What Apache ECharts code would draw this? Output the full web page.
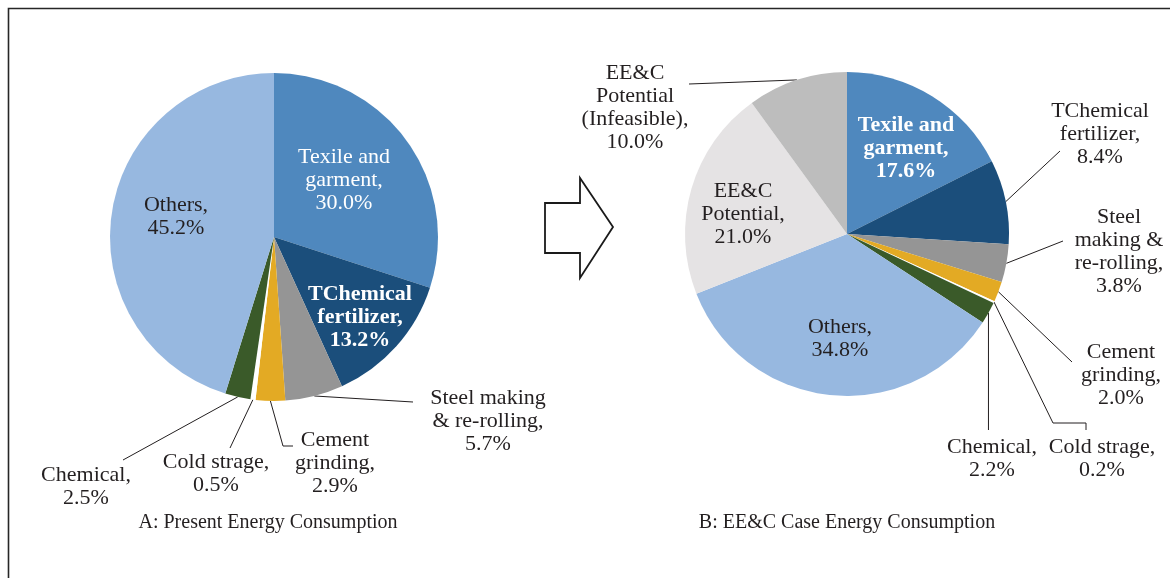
<!DOCTYPE html>
<html>
<head>
<meta charset="utf-8">
<script src="https://cdn.jsdelivr.net/npm/echarts@6/dist/echarts.min.js"></script>
<style>
  html, body { margin: 0; padding: 0; background: #fff; }
  #chart { width: 1170px; height: 578px; }
</style>
</head>
<body>
<div id="chart"></div>
<script>
// Sector names (the spelling is kept as published)
const sectors = [
  'Texile and garment', 'TChemical fertilizer', 'Steel making & re-rolling',
  'Cement grinding', 'Cold strage', 'Chemical', 'Others'
];
// A: present energy consumption, % share
const presentShare = [30.0, 13.2, 5.7, 2.9, 0.5, 2.5, 45.2];

// B: EE&C case, the same sectors plus the saving potential
const eecSectors = sectors.concat(['EE&C Potential', 'EE&C Potential (Infeasible)']);
const eecShare = [17.6, 8.4, 3.8, 2.0, 0.2, 2.2, 34.8, 21.0, 10.0];

const panelTitles = ['A: Present Energy Consumption', 'B: EE&C Case Energy Consumption'];

// Label text, line-broken as in the figure
const labelTextA = [
  'Texile and\ngarment,', 'TChemical\nfertilizer,', 'Steel making\n& re-rolling,',
  'Cement\ngrinding,', 'Cold strage,', 'Chemical,', 'Others,'
];
const labelTextB = [
  'Texile and\ngarment,', 'TChemical\nfertilizer,', 'Steel\nmaking &\nre-rolling,',
  'Cement\ngrinding,', 'Cold strage,', 'Chemical,', 'Others,',
  'EE&C\nPotential,', 'EE&C\nPotential\n(Infeasible),'
];

const colors = ['#4F88BE', '#1B4E7B', '#959595', '#E3AA24', '#FFFFFF', '#3A5A29', '#97B8E0', '#E5E3E4', '#BDBDBD'];

const FONT = "'Liberation Serif', 'Times New Roman', serif";
const pies = [
  { center: [274, 237], r: 164 },
  { center: [847, 234], r: 162 }
];

// Label anchors (block centre) and leader-line bends for each slice
const labelLayoutA = [
  { at: [344, 180], inside: true },
  { at: [360, 317], inside: true },
  { at: [488, 421], bend: [[413, 402]] },
  { at: [335, 463], bend: [[283, 446], [293, 446]] },
  { at: [216, 474], bend: [[230, 448]] },
  { at: [86, 487], bend: [[123, 460]] },
  { at: [176, 217], inside: true }
];
const labelLayoutB = [
  { at: [906, 148], inside: true },
  { at: [1100, 134], bend: [[1060, 151]] },
  { at: [1119, 252], bend: [[1063, 241]] },
  { at: [1121, 375], bend: [[1072, 362]] },
  { at: [1102, 459], bend: [[1053, 423], [1086, 423], [1086, 430]] },
  { at: [992, 459], vertical: 430 },
  { at: [840, 339], inside: true },
  { at: [743, 214], inside: true },
  { at: [635, 108], bend: [[689, 84]] }
];

// Point on the rim at a slice's mid-angle (clockwise from 12 o'clock)
function rimPoint(values, idx, pie) {
  const total = values.reduce((a, b) => a + b, 0);
  let before = 0;
  for (let i = 0; i < idx; i++) before += values[i];
  const frac = (before + values[idx] / 2) / total;
  const ang = frac * Math.PI * 2;
  return [pie.center[0] + pie.r * Math.sin(ang), pie.center[1] - pie.r * Math.cos(ang)];
}

function buildData(names, values, texts, layout, style) {
  return names.map((name, i) => {
    const s = style[i] || {};
    return {
      name: name,
      value: values[i],
      itemStyle: { color: colors[i] },
      label: {
        formatter: texts[i] + '\n' + values[i].toFixed(1) + '%',
        color: s.color || '#231F20',
        fontWeight: s.bold ? 'bold' : 'normal'
      },
      labelLine: { show: !layout[i].inside }
    };
  });
}

const styleA = { 0: { color: '#FFFFFF' }, 1: { color: '#FFFFFF', bold: true } };
const styleB = { 0: { color: '#FFFFFF', bold: true } };

function makeLabelLayout(values, layout, pie) {
  return function (params) {
    const L = layout[params.dataIndex];
    const out = { x: L.at[0], y: L.at[1], align: 'center', verticalAlign: 'middle' };
    if (!L.inside) {
      const start = rimPoint(values, params.dataIndex, pie);
      let pts;
      if (L.vertical !== undefined) {
        pts = [start, [start[0], L.vertical]];
      } else {
        pts = [start].concat(L.bend);
      }
      if (pts.length < 3) pts.push(pts[pts.length - 1].slice());
      out.labelLinePoints = pts;
    }
    return out;
  };
}

function pieSeries(names, values, texts, layout, style, pie) {
  return {
    type: 'pie',
    center: pie.center,
    radius: pie.r,
    startAngle: 90,
    clockwise: true,
    avoidLabelOverlap: false,
    animation: false,
    silent: true,
    itemStyle: { borderWidth: 0 },
    label: {
      show: true,
      position: 'outside',
      fontFamily: FONT,
      fontSize: 22,
      lineHeight: 23,
      align: 'center'
    },
    labelLine: {
      show: true,
      lineStyle: { color: '#231F20', width: 1 }
    },
    labelLayout: makeLabelLayout(values, layout, pie),
    data: buildData(names, values, texts, layout, style)
  };
}

const chart = echarts.init(document.getElementById('chart'), null, { renderer: 'canvas' });
chart.setOption({
  backgroundColor: '#FFFFFF',
  animation: false,
  series: [
    pieSeries(sectors, presentShare, labelTextA, labelLayoutA, styleA, pies[0]),
    pieSeries(eecSectors, eecShare, labelTextB, labelLayoutB, styleB, pies[1])
  ],
  graphic: [
    {
      type: 'rect',
      shape: { x: 8.5, y: 8.5, width: 1300, height: 700 },
      style: { fill: 'none', stroke: '#262626', lineWidth: 1.6 },
      silent: true
    },
    {
      // hollow block arrow between the two panels
      type: 'polygon',
      shape: { points: [[545, 203], [580, 203], [580, 178], [613, 227], [580, 278], [580, 253], [545, 253]] },
      style: { fill: '#FFFFFF', stroke: '#1A1A1A', lineWidth: 1.8, lineJoin: 'miter' },
      silent: true
    },
    {
      type: 'text',
      style: { text: panelTitles[0], x: 268, y: 523, textAlign: 'center', textVerticalAlign: 'middle',
               font: '20px ' + FONT, fill: '#231F20' },
      silent: true
    },
    {
      type: 'text',
      style: { text: panelTitles[1], x: 847, y: 523, textAlign: 'center', textVerticalAlign: 'middle',
               font: '20px ' + FONT, fill: '#231F20' },
      silent: true
    }
  ]
});
</script>
</body>
</html>
